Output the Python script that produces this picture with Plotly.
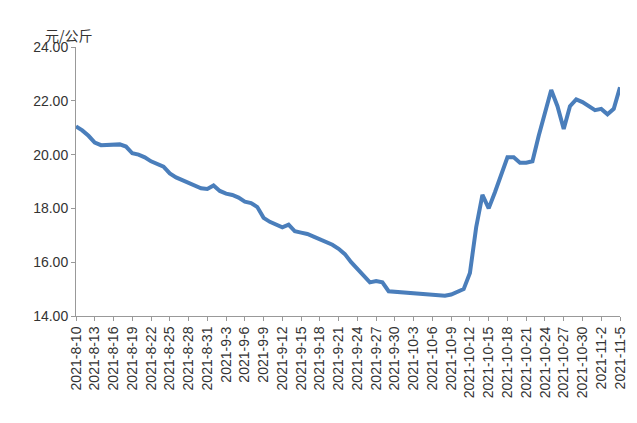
import plotly.graph_objects as go
import datetime as dt

start = dt.date(2021, 8, 10)
values = [21.05,20.9,20.7,20.45,20.35,20.35,20.38,20.38,20.3,20.05,20.0,19.9,19.75,19.65,19.55,19.3,19.15,19.05,
18.95,18.85,18.75,18.72,18.85,18.65,18.55,18.5,18.4,18.25,18.2,18.05,17.65,17.5,17.4,17.3,17.4,17.15,17.1,17.05,
16.95,16.85,16.75,16.65,16.5,16.3,16.0,15.75,15.5,15.25,15.3,15.25,14.92,14.9,14.88,14.87,14.85,14.84,14.83,14.8,
14.78,14.75,14.8,14.9,15.0,15.6,17.3,18.5,18.0,18.6,19.3,19.9,19.9,19.7,19.7,19.75,20.7,21.5,22.4,21.8,20.95,21.8,
22.05,21.95,21.8,21.65,21.7,21.5,21.7,22.5]
dates = [start + dt.timedelta(days=i) for i in range(len(values))]
labels = [f"{d.year}-{d.month}-{d.day}" for d in dates]
tick_labels = labels[::3]
y_ticks = [14, 16, 18, 20, 22, 24]

fig = go.Figure(go.Scatter(x=labels, y=values, mode="lines",
                           line=dict(color="#4a7ebb", width=4)))
fig.update_layout(
    width=637, height=423, paper_bgcolor="white", plot_bgcolor="white",
    margin=dict(l=68, r=25, t=39, b=115), showlegend=False,
    font=dict(family="Liberation Sans, Arial", size=14, color="#333"),
    xaxis=dict(type="category", tickmode="array", tickvals=tick_labels, ticktext=tick_labels,
               tickangle=-90, showline=True, linecolor="#999", showgrid=False, automargin=False,
               ticks="outside", ticklen=4, tickcolor="#999", range=[0, len(values)-1]),
    yaxis=dict(range=[14, 24], tickvals=y_ticks, tickformat=".2f", showline=True, automargin=False,
               linecolor="#999", showgrid=False, ticks="outside", ticklen=4, tickcolor="#999"),
    annotations=[dict(text="元/公斤", x=0, y=1.0, xref="paper", yref="paper", xshift=-33, yshift=24,
                      showarrow=False, font=dict(size=14, family="Noto Sans CJK SC"))],
)
fig.write_html("out.html")
